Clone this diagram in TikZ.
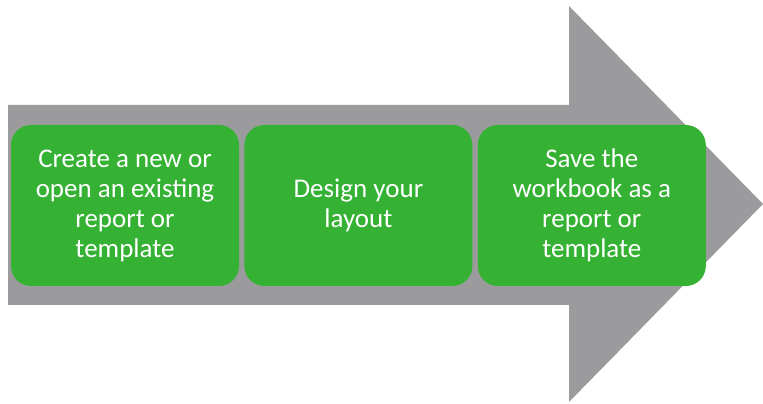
\documentclass[tikz,border=0pt]{standalone}
\usepackage{fontspec}
\setmainfont{Carlito}
\usetikzlibrary{positioning}

\definecolor{arrowgray}{HTML}{9B9B9D}
\definecolor{stepgreen}{HTML}{35B234}

\begin{document}
\begin{tikzpicture}[x=1pt, y=1pt, node distance=5pt,
    stepbox/.style={fill=stepgreen, rounded corners=20pt, minimum width=228pt,
      minimum height=161pt, align=center, text=white,
      font=\fontsize{27}{30}\selectfont}]
    \useasboundingbox (0,0) rectangle (763,404);
    % big gray arrow behind the steps
    \fill[arrowgray] (8,99) -- (8,299) -- (569,299) -- (569,398) -- (763,200)
      -- (569,2) -- (569,99) -- cycle;
    \node[stepbox] (create) at (125,198.5) {Create a new or\\open an existing\\report or\\template};
    \node[stepbox, right=of create] (design) {Design your\\layout};
    \node[stepbox, right=of design] (save) {Save the\\workbook as a\\report or\\template};
  \end{tikzpicture}
\end{document}
